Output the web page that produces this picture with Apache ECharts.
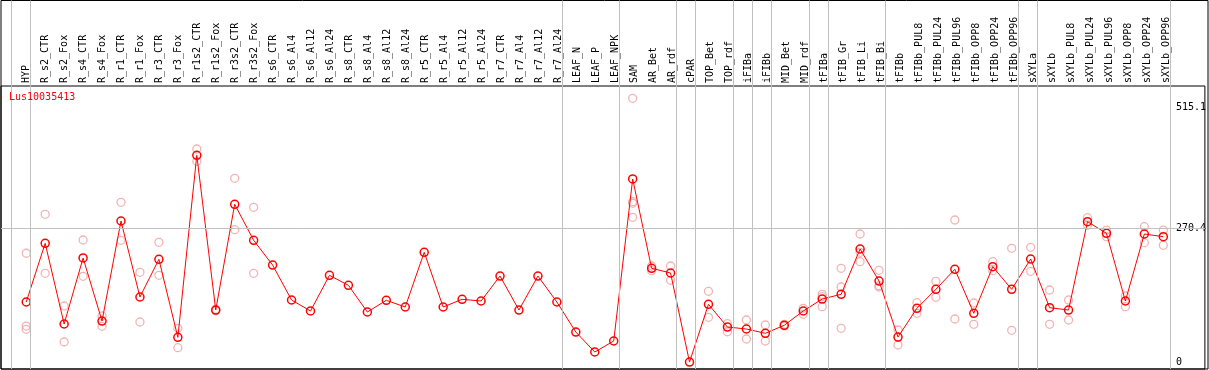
<!DOCTYPE html>
<html>
<head>
<meta charset="utf-8">
<script src="https://cdn.jsdelivr.net/npm/echarts@6/dist/echarts.min.js"></script>
<style>
html,body{margin:0;padding:0;background:#fff;}
#chart{width:1209px;height:370px;}
</style>
</head>
<body>
<div id="chart"></div>
<script>
const chartTitle = 'Lus10035413';
const categories = ['HYP','R_s2_CTR','R_s2_Fox','R_s4_CTR','R_s4_Fox','R_r1_CTR','R_r1_Fox','R_r3_CTR','R_r3_Fox','R_r1s2_CTR','R_r1s2_Fox','R_r3s2_CTR','R_r3s2_Fox','R_s6_CTR','R_s6_Al4','R_s6_Al12','R_s6_Al24','R_s8_CTR','R_s8_Al4','R_s8_Al12','R_s8_Al24','R_r5_CTR','R_r5_Al4','R_r5_Al12','R_r5_Al24','R_r7_CTR','R_r7_Al4','R_r7_Al12','R_r7_Al24','LEAF_N','LEAF_P','LEAF_NPK','SAM','AR_Bet','AR_rdf','cPAR','TOP_Bet','TOP_rdf','iFIBa','iFIBb','MID_Bet','MID_rdf','tFIBa','tFIB_Gr','tFIB_Li','tFIB_Bi','tFIBb','tFIBb_PUL8','tFIBb_PUL24','tFIBb_PUL96','tFIBb_OPP8','tFIBb_OPP24','tFIBb_OPP96','sXYLa','sXYLb','sXYLb_PUL8','sXYLb_PUL24','sXYLb_PUL96','sXYLb_OPP8','sXYLb_OPP24','sXYLb_OPP96'];
const meanValues = [121.7,240.1,77.3,210.5,83.3,285.1,131.8,207.8,50.4,417.7,105.5,318.8,246.2,196.3,125.7,103.5,175.5,155.4,101.5,125.1,111.6,222.0,111.6,127.1,123.7,174.1,105.5,174.1,121.7,61.1,20.8,43.0,369.9,189.7,180.2,0.5,117.0,71.2,67.2,58.5,74.7,103.5,127.7,137.2,228.6,164.0,51.0,109.0,147.3,187.7,98.9,192.9,147.3,208.4,110.2,105.5,283.7,260.3,123.7,258.9,253.4];
const rep1 = [220.0,298.6,113.6,246.8,93.4,322.8,181.6,242.1,68.6,430.4,107.0,371.3,312.8,null,null,null,null,null,null,null,null,null,null,null,null,null,null,null,null,null,null,null,532.7,194.3,194.3,null,143.3,77.9,85.4,75.3,76.7,109.0,137.2,189.7,258.9,185.6,65.2,120.3,163.4,287.1,119.7,203.0,230.0,232.0,145.9,125.7,291.8,266.9,133.8,273.6,266.9];
const rep2 = [73.2,179.6,41.0,173.5,72.6,246.2,81.3,175.5,29.5,405.6,104.0,267.6,179.6,null,null,null,null,null,null,null,null,null,null,null,null,null,null,null,null,null,null,null,324.1,184.8,165.5,null,90.8,61.7,47.0,43.0,73.2,96.9,132.4,151.9,222.0,154.6,34.9,98.9,131.2,87.4,76.7,184.8,64.6,183.6,76.7,85.4,277.0,253.4,112.2,241.3,236.1];
const rep3 = [66.6,null,null,null,null,null,null,null,null,null,null,null,null,null,null,null,null,null,null,null,null,null,null,null,null,null,null,null,null,null,null,null,320.8,null,null,null,null,null,null,null,null,null,112.2,68.6,203.0,151.9,null,null,null,null,null,null,null,null,null,null,null,null,null,null,null];
const rep4 = [null,null,null,null,null,null,null,null,null,null,null,null,null,null,null,null,null,null,null,null,null,null,null,null,null,null,null,null,null,null,null,null,292.6,null,null,null,null,null,null,null,null,null,null,null,null,null,null,null,null,null,null,null,null,null,null,null,null,null,null,null,null];
const yTickValues = [0, 270.4, 515.1];
const groupEnds = ['HYP','R_r7_Al24','LEAF_NPK','AR_rdf','cPAR','TOP_rdf','iFIBa','iFIBb','MID_rdf','tFIBa','tFIB_Bi','tFIBb_OPP96','sXYLa','sXYLb_OPP96'];

const FONT = 'DejaVu Sans Mono';
const frameLeft = 1, frameWidth = 1207;
const step = 19, firstCenter = 26.3;
const xMin = (frameLeft - firstCenter) / step;
const xMax = xMin + frameWidth / step;
const sepOffset = 0.23;

const meanData = meanValues.map((v, i) => [i, v]);
const repData = [];
[rep1, rep2, rep3, rep4].forEach(r => r.forEach((v, i) => { if (v != null) repData.push([i, v]); }));
const sepLines = [{xAxis: -1 + sepOffset}].concat(groupEnds.map(n => ({xAxis: categories.indexOf(n) + sepOffset})));

const chart = echarts.init(document.getElementById('chart'), null, {renderer: 'canvas'});
chart.setOption({
  animation: false,
  backgroundColor: '#fff',
  title: {
    text: chartTitle, left: 9, top: 92, padding: 0,
    textStyle: {color: '#ff0000', fontSize: 10, fontFamily: FONT, fontWeight: 'normal'}
  },
  grid: [
    {left: frameLeft, width: frameWidth, top: 0.5, height: 368.5, show: true, borderColor: '#000', borderWidth: 1, backgroundColor: 'transparent'},
    {left: frameLeft, width: frameWidth, top: 86, height: 283, show: true, borderColor: '#000', borderWidth: 1, backgroundColor: 'transparent'},
    {left: firstCenter - step / 2, width: step * categories.length, top: 0, height: 86}
  ],
  xAxis: [
    {gridIndex: 0, type: 'value', min: xMin, max: xMax, show: false},
    {gridIndex: 1, type: 'value', min: xMin, max: xMax, show: false},
    {gridIndex: 2, type: 'category', data: categories, boundaryGap: true, position: 'bottom',
     axisLine: {show: false}, axisTick: {show: false}, splitLine: {show: false},
     axisLabel: {inside: true, rotate: 90, interval: 0, margin: 3, color: '#000', fontSize: 10, fontFamily: FONT}}
  ],
  yAxis: [
    {gridIndex: 0, type: 'value', min: 0, max: 1, show: false},
    {gridIndex: 1, type: 'value', min: -13.5, max: 557.5, position: 'right',
     axisLine: {show: false}, axisTick: {show: false}, splitLine: {show: false},
     axisLabel: {inside: true, customValues: yTickValues, align: 'left', margin: 29, color: '#000', fontSize: 10, fontFamily: FONT,
       formatter: v => String(v)}},
    {gridIndex: 2, type: 'value', show: false}
  ],
  series: [
    {
      type: 'line', xAxisIndex: 0, yAxisIndex: 0, data: [[-10, -10]], symbol: 'none', silent: true, z: 1,
      markLine: {silent: true, symbol: 'none', label: {show: false},
        lineStyle: {color: '#c0c0c0', width: 1, type: 'solid'}, data: sepLines}
    },
    {
      type: 'scatter', xAxisIndex: 1, yAxisIndex: 1, data: repData, symbol: 'circle', symbolSize: 8, z: 3,
      itemStyle: {color: 'rgba(0,0,0,0)', borderColor: '#f0a0a0', borderWidth: 1.3}
    },
    {
      type: 'line', xAxisIndex: 1, yAxisIndex: 1, data: meanData, symbol: 'circle', symbolSize: 8, z: 4,
      lineStyle: {color: '#ff0000', width: 1},
      itemStyle: {color: 'rgba(0,0,0,0)', borderColor: '#ff0000', borderWidth: 1.5},
      markLine: {silent: true, symbol: 'none', label: {show: false},
        lineStyle: {color: '#c0c0c0', width: 1, type: 'solid'}, data: [{yAxis: yTickValues[1]}]}
    }
  ]
});
</script>
</body>
</html>
